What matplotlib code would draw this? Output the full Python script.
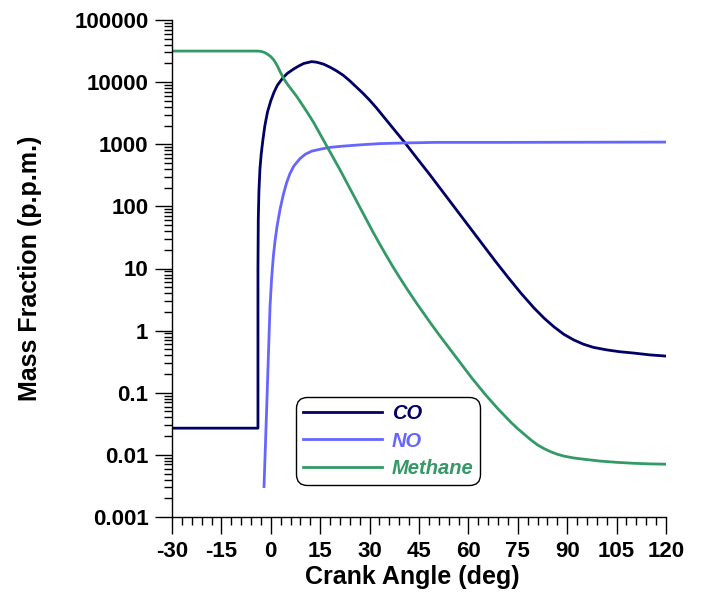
import numpy as np
import matplotlib
matplotlib.use('Agg')
import matplotlib.pyplot as plt
from matplotlib.ticker import FixedLocator, LogLocator, NullFormatter, MultipleLocator

plt.rcParams['font.family'] = ['Liberation Sans', 'DejaVu Sans']
plt.rcParams['axes.unicode_minus'] = False

# values (crank angle in deg, log10 of p.p.m.)
co_deg = [-30, -3.9, -3.9, -3.8, -3.6, -3.3, -2.9, -2.4, -1.8, -1.0, 0, 1, 2, 3.7, 5, 6.9,
          8.5, 10, 12.4, 14, 16, 18, 20, 22, 24, 26, 28, 30, 32, 34, 36, 38, 40.8, 44, 48,
          52, 56, 60, 64, 68, 72, 76, 80, 83, 86, 89, 92, 95, 98, 102, 106, 110, 115, 120]
co_log = [-1.57, -1.57, 1.0, 1.8, 2.25, 2.6, 2.85, 3.07, 3.30, 3.52, 3.70, 3.84, 3.95, 4.07,
          4.14, 4.21, 4.26, 4.30, 4.33, 4.32, 4.29, 4.24, 4.18, 4.11, 4.02, 3.92, 3.82, 3.71,
          3.59, 3.46, 3.33, 3.20, 3.02, 2.80, 2.53, 2.25, 1.97, 1.69, 1.41, 1.13, 0.86, 0.60,
          0.36, 0.20, 0.06, -0.06, -0.15, -0.22, -0.27, -0.31, -0.34, -0.36, -0.39, -0.41]

no_deg = [-2.06, -1.7, -1.24, -0.74, -0.24, 0.25, 0.76, 1.3, 1.9, 2.8, 3.8, 4.8, 5.83, 7,
          8.87, 10.5, 12.5, 15, 18, 22, 27, 33, 40, 50, 70, 120]
no_log = [-2.51, -1.95, -1.23, -0.42, 0.38, 0.84, 1.19, 1.45, 1.68, 1.95, 2.19, 2.38, 2.53,
          2.65, 2.77, 2.84, 2.89, 2.92, 2.95, 2.97, 2.99, 3.01, 3.02, 3.03, 3.03, 3.035]

ch4_deg = [-30, -4, -3, -2, -1, 0, 1, 2, 3, 4, 5, 6, 7, 8, 9, 10, 11, 13, 15, 17, 19, 21,
           23, 25, 27, 29, 31, 33, 35, 37, 39, 41, 43, 45, 47, 49, 51, 53, 55, 57, 59, 61,
           63, 65, 67, 69, 71, 73, 75, 77, 79, 81, 83, 85, 87, 89, 92, 95, 100, 105, 110,
           115, 120]
ch4_log = [4.50, 4.50, 4.495, 4.48, 4.45, 4.41, 4.35, 4.26, 4.15, 4.05, 3.97, 3.90, 3.83,
           3.76, 3.68, 3.60, 3.52, 3.35, 3.16, 2.97, 2.78, 2.59, 2.39, 2.19, 1.99, 1.79, 1.59,
           1.40, 1.215, 1.035, 0.865, 0.70, 0.54, 0.385, 0.235, 0.085, -0.06, -0.20, -0.34,
           -0.48, -0.62, -0.76, -0.89, -1.02, -1.14, -1.26, -1.37, -1.48, -1.58, -1.67,
           -1.76, -1.84, -1.90, -1.95, -1.99, -2.02, -2.05, -2.07, -2.10, -2.12, -2.135,
           -2.145, -2.15]

y_ticks = [1e-3, 1e-2, 1e-1, 1, 10, 100, 1000, 10000, 100000]
y_labels = ['0.001', '0.01', '0.1', '1', '10', '100', '1000', '10000', '100000']
x_ticks = [-30, -15, 0, 15, 30, 45, 60, 75, 90, 105, 120]

fig = plt.figure(figsize=(7.02, 5.98), dpi=100)
ax = fig.add_axes([172/702, 1 - 517/598, (666-172)/702, (517-20)/598])

ax.plot(co_deg, 10**np.array(co_log), color='#000066', lw=2.0, label='CO')
ax.plot(no_deg, 10**np.array(no_log), color='#6666ff', lw=2.0, label='NO')
ax.plot(ch4_deg, 10**np.array(ch4_log), color='#339966', lw=2.0, label='Methane')

ax.set_yscale('log')
ax.set_xlim(-30, 120)
ax.set_ylim(1e-3, 1e5)

ax.yaxis.set_major_locator(FixedLocator(y_ticks))
ax.set_yticklabels(y_labels)
ax.yaxis.set_minor_locator(LogLocator(base=10, subs=np.arange(2, 10)))
ax.yaxis.set_minor_formatter(NullFormatter())
ax.set_xticks(x_ticks)
ax.xaxis.set_minor_locator(MultipleLocator(3))

for s in ['top', 'right']:
    ax.spines[s].set_visible(False)
for s in ['left', 'bottom']:
    ax.spines[s].set_linewidth(1.0)

ax.tick_params(which='major', direction='out', length=12, width=1.0, labelsize=16, pad=5)
ax.tick_params(which='minor', direction='out', length=6, width=1.0)
for lab in ax.get_xticklabels() + ax.get_yticklabels():
    lab.set_fontweight('bold')

ax.set_xlabel('Crank Angle (deg)', fontsize=18, fontweight='bold')
ax.xaxis.set_label_coords((412 - 172) / 494, -0.097)
ax.set_ylabel('Mass Fraction (p.p.m.)', fontsize=18, fontweight='bold', labelpad=23)

leg = ax.legend(loc='upper left', bbox_to_anchor=(296/702, 1 - 397/598),
                bbox_transform=fig.transFigure, borderaxespad=0,
                prop={'size': 14.5, 'style': 'italic', 'weight': 'bold'},
                labelcolor='linecolor',
                handlelength=3.9, handletextpad=0.5, labelspacing=0.42,
                borderpad=0.35, frameon=True, fancybox=True)
frame = leg.get_frame()
frame.set_edgecolor('black')
frame.set_linewidth(1.0)
frame.set_alpha(1)
frame.set_boxstyle('round,pad=0,rounding_size=0.55')

fig.savefig('out.png', dpi=100)
